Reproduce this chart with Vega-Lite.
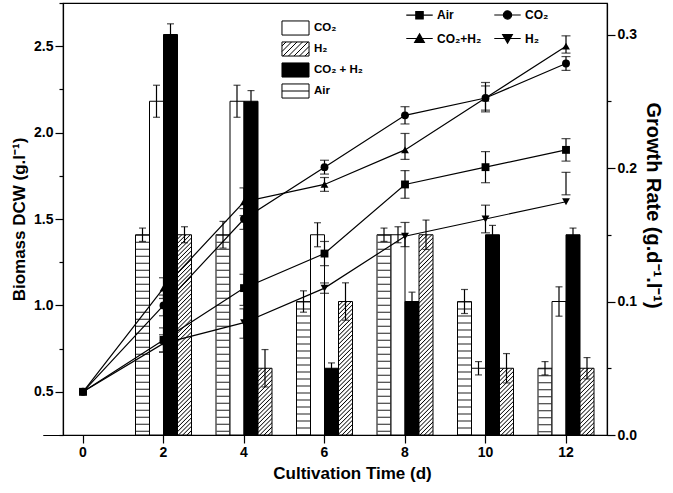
{
"$schema": "https://vega.github.io/schema/vega-lite/v6.json",
"width": 544, "height": 432,
"autosize": {"type": "none"},
"padding": {"left": 63, "top": 3, "right": 66, "bottom": 58},
"background": "white",
"datasets": {
"bars": [
{"day":2,"series":"Air","rate":0.15,"lo":0.145,"hi":0.155},
{"day":2,"series":"CO2","rate":0.25,"lo":0.238,"hi":0.262},
{"day":2,"series":"CO2H2","rate":0.30,"lo":0.292,"hi":0.308},
{"day":2,"series":"H2","rate":0.15,"lo":0.144,"hi":0.156},
{"day":4,"series":"Air","rate":0.15,"lo":0.14,"hi":0.16},
{"day":4,"series":"CO2","rate":0.25,"lo":0.238,"hi":0.262},
{"day":4,"series":"CO2H2","rate":0.25,"lo":0.242,"hi":0.258},
{"day":4,"series":"H2","rate":0.05,"lo":0.036,"hi":0.064},
{"day":6,"series":"Air","rate":0.10,"lo":0.092,"hi":0.108},
{"day":6,"series":"CO2","rate":0.15,"lo":0.141,"hi":0.159},
{"day":6,"series":"CO2H2","rate":0.05,"lo":0.046,"hi":0.054},
{"day":6,"series":"H2","rate":0.10,"lo":0.086,"hi":0.114},
{"day":8,"series":"Air","rate":0.15,"lo":0.145,"hi":0.155},
{"day":8,"series":"CO2","rate":0.15,"lo":0.144,"hi":0.156},
{"day":8,"series":"CO2H2","rate":0.10,"lo":0.093,"hi":0.107},
{"day":8,"series":"H2","rate":0.15,"lo":0.139,"hi":0.161},
{"day":10,"series":"Air","rate":0.10,"lo":0.091,"hi":0.109},
{"day":10,"series":"CO2","rate":0.05,"lo":0.045,"hi":0.055},
{"day":10,"series":"CO2H2","rate":0.15,"lo":0.143,"hi":0.157},
{"day":10,"series":"H2","rate":0.05,"lo":0.039,"hi":0.061},
{"day":12,"series":"Air","rate":0.05,"lo":0.045,"hi":0.055},
{"day":12,"series":"CO2","rate":0.10,"lo":0.089,"hi":0.111},
{"day":12,"series":"CO2H2","rate":0.15,"lo":0.145,"hi":0.155},
{"day":12,"series":"H2","rate":0.05,"lo":0.042,"hi":0.058}
],
"lines": [
{"day":0,"series":"Air","dcw":0.5},
{"day":0,"series":"CO2","dcw":0.5},
{"day":0,"series":"CO2H2","dcw":0.5},
{"day":0,"series":"H2","dcw":0.5},
{"day":2,"series":"Air","dcw":0.8,"lo":0.73,"hi":0.87},
{"day":2,"series":"CO2","dcw":1.0,"lo":0.94,"hi":1.06},
{"day":2,"series":"CO2H2","dcw":1.1,"lo":1.04,"hi":1.16},
{"day":2,"series":"H2","dcw":0.78,"lo":0.73,"hi":0.83},
{"day":4,"series":"Air","dcw":1.1,"lo":1.0,"hi":1.18},
{"day":4,"series":"CO2","dcw":1.5,"lo":1.44,"hi":1.56},
{"day":4,"series":"CO2H2","dcw":1.6,"lo":1.52,"hi":1.68},
{"day":4,"series":"H2","dcw":0.9,"lo":0.81,"hi":0.98},
{"day":6,"series":"Air","dcw":1.3,"lo":1.23,"hi":1.37},
{"day":6,"series":"CO2","dcw":1.8,"lo":1.76,"hi":1.84},
{"day":6,"series":"CO2H2","dcw":1.7,"lo":1.66,"hi":1.74},
{"day":6,"series":"H2","dcw":1.1,"lo":1.07,"hi":1.13},
{"day":8,"series":"Air","dcw":1.7,"lo":1.62,"hi":1.78},
{"day":8,"series":"CO2","dcw":2.1,"lo":2.05,"hi":2.15},
{"day":8,"series":"CO2H2","dcw":1.9,"lo":1.845,"hi":1.995},
{"day":8,"series":"H2","dcw":1.4,"lo":1.34,"hi":1.48},
{"day":10,"series":"Air","dcw":1.8,"lo":1.71,"hi":1.89},
{"day":10,"series":"CO2","dcw":2.2,"lo":2.13,"hi":2.29},
{"day":10,"series":"CO2H2","dcw":2.2,"lo":2.12,"hi":2.27},
{"day":10,"series":"H2","dcw":1.5,"lo":1.42,"hi":1.58},
{"day":12,"series":"Air","dcw":1.9,"lo":1.835,"hi":1.965},
{"day":12,"series":"CO2","dcw":2.4,"lo":2.36,"hi":2.44},
{"day":12,"series":"CO2H2","dcw":2.5,"lo":2.46,"hi":2.56},
{"day":12,"series":"H2","dcw":1.6,"lo":1.64,"hi":1.77}
]
},
"layer": [
{
"data": {"name": "bars"},
"layer": [
{
"mark": {"type": "bar", "stroke": "black", "strokeWidth": 1},
"encoding": {
"x": {"field": "day", "type": "ordinal", "title": "Cultivation Time (d)",
"scale": {"domain": [0,2,4,6,8,10,12], "range": [-20.25, 543.25], "paddingInner": 0, "paddingOuter": 0},
"axis": {"labelAngle": 0, "titlePadding": 6, "titleX": 289}},
"xOffset": {"field": "series", "type": "nominal", "scale": {"domain": ["Air","CO2","CO2H2","H2"], "range": [12.25, 68.25], "paddingInner": 0, "paddingOuter": 0}},
"y": {"field": "rate", "type": "quantitative", "stack": null, "title": "Growth Rate (g.d⁻¹.l⁻¹)",
"scale": {"domain": [0, 0.3236], "nice": false, "zero": false},
"axis": {"orient": "right", "values": [0,0.05,0.1,0.15,0.2,0.25,0.3],
"labelExpr": "abs(datum.value*10 - round(datum.value*10)) < 0.001 ? format(datum.value, '.1f') : ''",
"tickSize": {"condition": {"test": "abs(datum.value*10 - round(datum.value*10)) < 0.001", "value": 8}, "value": 4},
"titlePadding": 6, "titleFontSize": 20, "titleY": 202}},
"fill": {"condition": [
{"test": "datum.series == 'CO2H2'", "value": "black"},
{"test": "datum.series == 'H2' && datum.rate < 0.07", "value": {"gradient":"linear","x1":0,"y1":0,"x2":0.64408,"y2":3.07088,"stops":[
{"offset":0,"color":"#000"},{"offset":0.005,"color":"#fff"},{"offset":0.015,"color":"#fff"},
{"offset":0.02,"color":"#000"},{"offset":0.025,"color":"#fff"},{"offset":0.035,"color":"#fff"},
{"offset":0.04,"color":"#000"},{"offset":0.045,"color":"#fff"},{"offset":0.055,"color":"#fff"},
{"offset":0.06,"color":"#000"},{"offset":0.065,"color":"#fff"},{"offset":0.075,"color":"#fff"},
{"offset":0.08,"color":"#000"},{"offset":0.085,"color":"#fff"},{"offset":0.095,"color":"#fff"},
{"offset":0.1,"color":"#000"},{"offset":0.105,"color":"#fff"},{"offset":0.115,"color":"#fff"},
{"offset":0.12,"color":"#000"},{"offset":0.125,"color":"#fff"},{"offset":0.135,"color":"#fff"},
{"offset":0.14,"color":"#000"},{"offset":0.145,"color":"#fff"},{"offset":0.155,"color":"#fff"},
{"offset":0.16,"color":"#000"},{"offset":0.165,"color":"#fff"},{"offset":0.175,"color":"#fff"},
{"offset":0.18,"color":"#000"},{"offset":0.185,"color":"#fff"},{"offset":0.195,"color":"#fff"},
{"offset":0.2,"color":"#000"},{"offset":0.205,"color":"#fff"},{"offset":0.215,"color":"#fff"},
{"offset":0.22,"color":"#000"},{"offset":0.225,"color":"#fff"},{"offset":0.235,"color":"#fff"},
{"offset":0.24,"color":"#000"},{"offset":0.245,"color":"#fff"},{"offset":0.255,"color":"#fff"},
{"offset":0.26,"color":"#000"},{"offset":0.265,"color":"#fff"},{"offset":0.275,"color":"#fff"},
{"offset":0.28,"color":"#000"},{"offset":0.285,"color":"#fff"},{"offset":0.295,"color":"#fff"},
{"offset":0.3,"color":"#000"},{"offset":0.305,"color":"#fff"},{"offset":0.315,"color":"#fff"},
{"offset":0.32,"color":"#000"},{"offset":0.325,"color":"#fff"},{"offset":0.335,"color":"#fff"},
{"offset":0.34,"color":"#000"},{"offset":0.345,"color":"#fff"},{"offset":0.355,"color":"#fff"},
{"offset":0.36,"color":"#000"},{"offset":0.365,"color":"#fff"},{"offset":0.375,"color":"#fff"},
{"offset":0.38,"color":"#000"},{"offset":0.385,"color":"#fff"}]}},
{"test": "datum.series == 'H2' && datum.rate < 0.12", "value": {"gradient":"linear","x1":0,"y1":0,"x2":0.16628,"y2":1.58558,"stops":[
{"offset":0,"color":"#000"},{"offset":0.005,"color":"#fff"},{"offset":0.015,"color":"#fff"},
{"offset":0.02,"color":"#000"},{"offset":0.025,"color":"#fff"},{"offset":0.035,"color":"#fff"},
{"offset":0.04,"color":"#000"},{"offset":0.045,"color":"#fff"},{"offset":0.055,"color":"#fff"},
{"offset":0.06,"color":"#000"},{"offset":0.065,"color":"#fff"},{"offset":0.075,"color":"#fff"},
{"offset":0.08,"color":"#000"},{"offset":0.085,"color":"#fff"},{"offset":0.095,"color":"#fff"},
{"offset":0.1,"color":"#000"},{"offset":0.105,"color":"#fff"},{"offset":0.115,"color":"#fff"},
{"offset":0.12,"color":"#000"},{"offset":0.125,"color":"#fff"},{"offset":0.135,"color":"#fff"},
{"offset":0.14,"color":"#000"},{"offset":0.145,"color":"#fff"},{"offset":0.155,"color":"#fff"},
{"offset":0.16,"color":"#000"},{"offset":0.165,"color":"#fff"},{"offset":0.175,"color":"#fff"},
{"offset":0.18,"color":"#000"},{"offset":0.185,"color":"#fff"},{"offset":0.195,"color":"#fff"},
{"offset":0.2,"color":"#000"},{"offset":0.205,"color":"#fff"},{"offset":0.215,"color":"#fff"},
{"offset":0.22,"color":"#000"},{"offset":0.225,"color":"#fff"},{"offset":0.235,"color":"#fff"},
{"offset":0.24,"color":"#000"},{"offset":0.245,"color":"#fff"},{"offset":0.255,"color":"#fff"},
{"offset":0.26,"color":"#000"},{"offset":0.265,"color":"#fff"},{"offset":0.275,"color":"#fff"},
{"offset":0.28,"color":"#000"},{"offset":0.285,"color":"#fff"},{"offset":0.295,"color":"#fff"},
{"offset":0.3,"color":"#000"},{"offset":0.305,"color":"#fff"},{"offset":0.315,"color":"#fff"},
{"offset":0.32,"color":"#000"},{"offset":0.325,"color":"#fff"},{"offset":0.335,"color":"#fff"},
{"offset":0.34,"color":"#000"},{"offset":0.345,"color":"#fff"},{"offset":0.355,"color":"#fff"},
{"offset":0.36,"color":"#000"},{"offset":0.365,"color":"#fff"},{"offset":0.375,"color":"#fff"},
{"offset":0.38,"color":"#000"},{"offset":0.385,"color":"#fff"},{"offset":0.395,"color":"#fff"},
{"offset":0.4,"color":"#000"},{"offset":0.405,"color":"#fff"},{"offset":0.415,"color":"#fff"},
{"offset":0.42,"color":"#000"},{"offset":0.425,"color":"#fff"},{"offset":0.435,"color":"#fff"},
{"offset":0.44,"color":"#000"},{"offset":0.445,"color":"#fff"},{"offset":0.455,"color":"#fff"},
{"offset":0.46,"color":"#000"},{"offset":0.465,"color":"#fff"},{"offset":0.475,"color":"#fff"},
{"offset":0.48,"color":"#000"},{"offset":0.485,"color":"#fff"},{"offset":0.495,"color":"#fff"},
{"offset":0.5,"color":"#000"},{"offset":0.505,"color":"#fff"},{"offset":0.515,"color":"#fff"},
{"offset":0.52,"color":"#000"},{"offset":0.525,"color":"#fff"},{"offset":0.535,"color":"#fff"},
{"offset":0.54,"color":"#000"},{"offset":0.545,"color":"#fff"},{"offset":0.555,"color":"#fff"},
{"offset":0.56,"color":"#000"},{"offset":0.565,"color":"#fff"},{"offset":0.575,"color":"#fff"},
{"offset":0.58,"color":"#000"},{"offset":0.585,"color":"#fff"},{"offset":0.595,"color":"#fff"},
{"offset":0.6,"color":"#000"},{"offset":0.605,"color":"#fff"},{"offset":0.615,"color":"#fff"},
{"offset":0.62,"color":"#000"},{"offset":0.625,"color":"#fff"},{"offset":0.635,"color":"#fff"},
{"offset":0.64,"color":"#000"},{"offset":0.645,"color":"#fff"},{"offset":0.655,"color":"#fff"},
{"offset":0.66,"color":"#000"},{"offset":0.665,"color":"#fff"},{"offset":0.675,"color":"#fff"},
{"offset":0.68,"color":"#000"},{"offset":0.685,"color":"#fff"},{"offset":0.695,"color":"#fff"}]}},
{"test": "datum.series == 'H2'", "value": {"gradient":"linear","x1":0,"y1":0,"x2":0.07439,"y2":1.06373,"stops":[
{"offset":0,"color":"#000"},{"offset":0.005,"color":"#fff"},{"offset":0.015,"color":"#fff"},
{"offset":0.02,"color":"#000"},{"offset":0.025,"color":"#fff"},{"offset":0.035,"color":"#fff"},
{"offset":0.04,"color":"#000"},{"offset":0.045,"color":"#fff"},{"offset":0.055,"color":"#fff"},
{"offset":0.06,"color":"#000"},{"offset":0.065,"color":"#fff"},{"offset":0.075,"color":"#fff"},
{"offset":0.08,"color":"#000"},{"offset":0.085,"color":"#fff"},{"offset":0.095,"color":"#fff"},
{"offset":0.1,"color":"#000"},{"offset":0.105,"color":"#fff"},{"offset":0.115,"color":"#fff"},
{"offset":0.12,"color":"#000"},{"offset":0.125,"color":"#fff"},{"offset":0.135,"color":"#fff"},
{"offset":0.14,"color":"#000"},{"offset":0.145,"color":"#fff"},{"offset":0.155,"color":"#fff"},
{"offset":0.16,"color":"#000"},{"offset":0.165,"color":"#fff"},{"offset":0.175,"color":"#fff"},
{"offset":0.18,"color":"#000"},{"offset":0.185,"color":"#fff"},{"offset":0.195,"color":"#fff"},
{"offset":0.2,"color":"#000"},{"offset":0.205,"color":"#fff"},{"offset":0.215,"color":"#fff"},
{"offset":0.22,"color":"#000"},{"offset":0.225,"color":"#fff"},{"offset":0.235,"color":"#fff"},
{"offset":0.24,"color":"#000"},{"offset":0.245,"color":"#fff"},{"offset":0.255,"color":"#fff"},
{"offset":0.26,"color":"#000"},{"offset":0.265,"color":"#fff"},{"offset":0.275,"color":"#fff"},
{"offset":0.28,"color":"#000"},{"offset":0.285,"color":"#fff"},{"offset":0.295,"color":"#fff"},
{"offset":0.3,"color":"#000"},{"offset":0.305,"color":"#fff"},{"offset":0.315,"color":"#fff"},
{"offset":0.32,"color":"#000"},{"offset":0.325,"color":"#fff"},{"offset":0.335,"color":"#fff"},
{"offset":0.34,"color":"#000"},{"offset":0.345,"color":"#fff"},{"offset":0.355,"color":"#fff"},
{"offset":0.36,"color":"#000"},{"offset":0.365,"color":"#fff"},{"offset":0.375,"color":"#fff"},
{"offset":0.38,"color":"#000"},{"offset":0.385,"color":"#fff"},{"offset":0.395,"color":"#fff"},
{"offset":0.4,"color":"#000"},{"offset":0.405,"color":"#fff"},{"offset":0.415,"color":"#fff"},
{"offset":0.42,"color":"#000"},{"offset":0.425,"color":"#fff"},{"offset":0.435,"color":"#fff"},
{"offset":0.44,"color":"#000"},{"offset":0.445,"color":"#fff"},{"offset":0.455,"color":"#fff"},
{"offset":0.46,"color":"#000"},{"offset":0.465,"color":"#fff"},{"offset":0.475,"color":"#fff"},
{"offset":0.48,"color":"#000"},{"offset":0.485,"color":"#fff"},{"offset":0.495,"color":"#fff"},
{"offset":0.5,"color":"#000"},{"offset":0.505,"color":"#fff"},{"offset":0.515,"color":"#fff"},
{"offset":0.52,"color":"#000"},{"offset":0.525,"color":"#fff"},{"offset":0.535,"color":"#fff"},
{"offset":0.54,"color":"#000"},{"offset":0.545,"color":"#fff"},{"offset":0.555,"color":"#fff"},
{"offset":0.56,"color":"#000"},{"offset":0.565,"color":"#fff"},{"offset":0.575,"color":"#fff"},
{"offset":0.58,"color":"#000"},{"offset":0.585,"color":"#fff"},{"offset":0.595,"color":"#fff"},
{"offset":0.6,"color":"#000"},{"offset":0.605,"color":"#fff"},{"offset":0.615,"color":"#fff"},
{"offset":0.62,"color":"#000"},{"offset":0.625,"color":"#fff"},{"offset":0.635,"color":"#fff"},
{"offset":0.64,"color":"#000"},{"offset":0.645,"color":"#fff"},{"offset":0.655,"color":"#fff"},
{"offset":0.66,"color":"#000"},{"offset":0.665,"color":"#fff"},{"offset":0.675,"color":"#fff"},
{"offset":0.68,"color":"#000"},{"offset":0.685,"color":"#fff"},{"offset":0.695,"color":"#fff"},
{"offset":0.7,"color":"#000"},{"offset":0.705,"color":"#fff"},{"offset":0.715,"color":"#fff"},
{"offset":0.72,"color":"#000"},{"offset":0.725,"color":"#fff"},{"offset":0.735,"color":"#fff"},
{"offset":0.74,"color":"#000"},{"offset":0.745,"color":"#fff"},{"offset":0.755,"color":"#fff"},
{"offset":0.76,"color":"#000"},{"offset":0.765,"color":"#fff"},{"offset":0.775,"color":"#fff"},
{"offset":0.78,"color":"#000"},{"offset":0.785,"color":"#fff"},{"offset":0.795,"color":"#fff"},
{"offset":0.8,"color":"#000"},{"offset":0.805,"color":"#fff"},{"offset":0.815,"color":"#fff"},
{"offset":0.82,"color":"#000"},{"offset":0.825,"color":"#fff"},{"offset":0.835,"color":"#fff"},
{"offset":0.84,"color":"#000"},{"offset":0.845,"color":"#fff"},{"offset":0.855,"color":"#fff"},
{"offset":0.86,"color":"#000"},{"offset":0.865,"color":"#fff"},{"offset":0.875,"color":"#fff"},
{"offset":0.88,"color":"#000"},{"offset":0.885,"color":"#fff"},{"offset":0.895,"color":"#fff"},
{"offset":0.9,"color":"#000"},{"offset":0.905,"color":"#fff"},{"offset":0.915,"color":"#fff"},
{"offset":0.92,"color":"#000"},{"offset":0.925,"color":"#fff"},{"offset":0.935,"color":"#fff"},
{"offset":0.94,"color":"#000"},{"offset":0.945,"color":"#fff"},{"offset":0.955,"color":"#fff"},
{"offset":0.96,"color":"#000"},{"offset":0.965,"color":"#fff"},{"offset":0.975,"color":"#fff"},
{"offset":0.98,"color":"#000"},{"offset":0.985,"color":"#fff"},{"offset":0.995,"color":"#fff"},
{"offset":1,"color":"#000"}]}}
], "value": "white"}
}
},
{
"transform": [{"filter": "datum.series == 'Air'"}],
"mark": {"type": "rule", "strokeWidth": 13, "strokeDash": [1, 6], "strokeCap": "butt", "color": "#222"},
"encoding": {
"x": {"field": "day", "type": "ordinal", "title": "Cultivation Time (d)"},
"xOffset": {"field": "series", "type": "nominal"},
"y": {"field": "rate", "type": "quantitative", "stack": null, "title": "Growth Rate (g.d⁻¹.l⁻¹)"},
"y2": {"datum": 0}
}
},
{
"mark": {"type": "rule", "color": "black", "strokeWidth": 1.2},
"encoding": {
"x": {"field": "day", "type": "ordinal", "title": "Cultivation Time (d)"},
"xOffset": {"field": "series", "type": "nominal"},
"y": {"field": "lo", "type": "quantitative", "title": "Growth Rate (g.d⁻¹.l⁻¹)"},
"y2": {"field": "hi"}
}
},
{
"mark": {"type": "tick", "orient": "horizontal", "size": 7, "thickness": 1.2, "color": "black"},
"encoding": {
"x": {"field": "day", "type": "ordinal", "title": "Cultivation Time (d)"},
"xOffset": {"field": "series", "type": "nominal"},
"y": {"field": "hi", "type": "quantitative", "title": "Growth Rate (g.d⁻¹.l⁻¹)"}
}
},
{
"mark": {"type": "tick", "orient": "horizontal", "size": 7, "thickness": 1.2, "color": "black"},
"encoding": {
"x": {"field": "day", "type": "ordinal", "title": "Cultivation Time (d)"},
"xOffset": {"field": "series", "type": "nominal"},
"y": {"field": "lo", "type": "quantitative", "title": "Growth Rate (g.d⁻¹.l⁻¹)"}
}
},
{
"transform": [{"filter": "false"}],
"mark": {"type": "point", "filled": true, "stroke": "black", "strokeWidth": 1, "opacity": 1},
"encoding": {
"fill": {"field": "series", "type": "nominal", "title": null,
"scale": {"domain": ["CO2","H2","CO2H2","Air"], "range": ["white","white","black","white"]},
"legend": {"orient": "none", "legendX": 221, "legendY": 13.5, "symbolSize": 484, "rowPadding": 0, "labelOffset": 7,
"labelFontSize": 11.5, "labelFont": "Liberation Sans", "labelFontWeight": "bold", "labelColor": "black",
"symbolStrokeColor": "black", "symbolStrokeWidth": 1, "symbolOpacity": 1,
"encode": {"symbols": {"update": {"stroke": {"value": "black"}, "strokeWidth": {"value": 1}}}},
"labelExpr": "datum.label == 'CO2' ? 'CO₂' : datum.label == 'H2' ? 'H₂' : datum.label == 'CO2H2' ? 'CO₂ + H₂' : 'Air'"}},
"shape": {"field": "series", "type": "nominal", "title": null,
"scale": {"domain": ["CO2","H2","CO2H2","Air"], "range": [
"M-1.23,-0.64H1.23V0.64H-1.23Z",
"M-1.23,-0.64H1.23V0.64H-1.23ZM-1.23,-0.27L-0.86,-0.64M-1.23,0.23L-0.36,-0.64M-1.14,0.64L0.14,-0.64M-0.64,0.64L0.64,-0.64M-0.14,0.64L1.14,-0.64M0.36,0.64L1.23,-0.23M0.86,0.64L1.23,0.27",
"M-1.23,-0.64H1.23V0.64H-1.23Z",
"M-1.23,-0.64H1.23V0.64H-1.23ZM-1.23,0H1.23"]},
"legend": {"orient": "none", "legendX": 221, "legendY": 13.5, "symbolSize": 484, "rowPadding": 0, "labelOffset": 7,
"labelFontSize": 11.5, "labelFont": "Liberation Sans", "labelFontWeight": "bold", "labelColor": "black",
"symbolStrokeColor": "black", "symbolStrokeWidth": 1, "symbolOpacity": 1,
"encode": {"symbols": {"update": {"stroke": {"value": "black"}, "strokeWidth": {"value": 1}}}},
"labelExpr": "datum.label == 'CO2' ? 'CO₂' : datum.label == 'H2' ? 'H₂' : datum.label == 'CO2H2' ? 'CO₂ + H₂' : 'Air'"}}
}
}
]
},
{
"data": {"name": "lines"},
"layer": [
{
"mark": {"type": "line", "color": "black", "strokeWidth": 1.2},
"encoding": {
"x": {"field": "day", "type": "ordinal", "title": "Cultivation Time (d)"},
"y": {"field": "dcw", "type": "quantitative", "title": "Biomass DCW (g.l⁻¹)",
"scale": {"domain": [0.25, 2.75], "nice": false, "zero": false},
"axis": {"orient": "left", "values": [0.25,0.5,0.75,1,1.25,1.5,1.75,2,2.25,2.5,2.75],
"labelExpr": "abs(datum.value*2 - round(datum.value*2)) < 0.001 ? format(datum.value, '.1f') : ''",
"tickSize": {"condition": {"test": "abs(datum.value*2 - round(datum.value*2)) < 0.001", "value": 8}, "value": 4},
"titlePadding": 5}},
"detail": {"field": "series"}
}
},
{
"transform": [{"filter": "datum.lo != null"}],
"mark": {"type": "rule", "color": "black", "strokeWidth": 1.2},
"encoding": {
"x": {"field": "day", "type": "ordinal", "title": "Cultivation Time (d)"},
"y": {"field": "lo", "type": "quantitative", "title": "Biomass DCW (g.l⁻¹)"},
"y2": {"field": "hi"}
}
},
{
"transform": [{"filter": "datum.lo != null"}],
"mark": {"type": "tick", "orient": "horizontal", "size": 9, "thickness": 1.2, "color": "black"},
"encoding": {
"x": {"field": "day", "type": "ordinal", "title": "Cultivation Time (d)"},
"y": {"field": "hi", "type": "quantitative", "title": "Biomass DCW (g.l⁻¹)"}
}
},
{
"transform": [{"filter": "datum.lo != null"}],
"mark": {"type": "tick", "orient": "horizontal", "size": 9, "thickness": 1.2, "color": "black"},
"encoding": {
"x": {"field": "day", "type": "ordinal", "title": "Cultivation Time (d)"},
"y": {"field": "lo", "type": "quantitative", "title": "Biomass DCW (g.l⁻¹)"}
}
},
{
"mark": {"type": "point", "filled": true, "size": 62, "color": "black", "opacity": 1},
"encoding": {
"x": {"field": "day", "type": "ordinal", "title": "Cultivation Time (d)"},
"y": {"field": "dcw", "type": "quantitative", "title": "Biomass DCW (g.l⁻¹)"},
"shape": {"field": "series", "type": "nominal", "legend": null,
"scale": {"domain": ["Air","CO2","CO2H2","H2"], "range": ["square","circle","triangle-up","triangle-down"]}}
}
},
{
"transform": [{"filter": "false"}],
"mark": {"type": "point", "filled": true, "strokeWidth": 1.2, "opacity": 1},
"encoding": {
"fill": {"field": "series", "type": "nominal", "title": null,
"scale": {"domain": ["Air","CO2H2","CO2","H2"], "range": ["black","black","black","black"]},
"legend": {"orient": "none", "legendX": 344, "legendY": -1, "columns": 2, "columnPadding": 9, "rowPadding": 4,
"symbolSize": 529, "labelOffset": 5, "labelFontSize": 12, "labelFont": "Liberation Sans", "labelFontWeight": "bold", "labelColor": "black",
"symbolStrokeColor": "black", "symbolStrokeWidth": 1.2, "symbolOpacity": 1,
"encode": {"symbols": {"update": {"stroke": {"value": "black"}, "strokeWidth": {"value": 1.2}}}},
"labelExpr": "datum.label == 'CO2' ? 'CO₂' : datum.label == 'H2' ? 'H₂' : datum.label == 'CO2H2' ? 'CO₂+H₂' : 'Air'"}},
"stroke": {"field": "series", "type": "nominal", "title": null,
"scale": {"domain": ["Air","CO2H2","CO2","H2"], "range": ["black","black","black","black"]},
"legend": {"orient": "none", "legendX": 344, "legendY": -1, "columns": 2, "columnPadding": 9, "rowPadding": 4,
"symbolSize": 529, "labelOffset": 5, "labelFontSize": 12, "labelFont": "Liberation Sans", "labelFontWeight": "bold", "labelColor": "black",
"symbolStrokeColor": "black", "symbolStrokeWidth": 1.2, "symbolOpacity": 1,
"encode": {"symbols": {"update": {"stroke": {"value": "black"}, "strokeWidth": {"value": 1.2}}}},
"labelExpr": "datum.label == 'CO2' ? 'CO₂' : datum.label == 'H2' ? 'H₂' : datum.label == 'CO2H2' ? 'CO₂+H₂' : 'Air'"}},
"shape": {"field": "series", "type": "nominal", "title": null,
"scale": {"domain": ["Air","CO2H2","CO2","H2"], "range": [
"M-1.15,0H1.15M-0.32,-0.32H0.32V0.32H-0.32Z",
"M-1.15,0H1.15M0,-0.4L0.42,0.34H-0.42Z",
"M-1.15,0H1.15M0.36,0A0.36,0.36,0,1,1,-0.36,0A0.36,0.36,0,1,1,0.36,0Z",
"M-1.15,0H1.15M0,0.4L0.42,-0.34H-0.42Z"]},
"legend": {"orient": "none", "legendX": 344, "legendY": -1, "columns": 2, "columnPadding": 9, "rowPadding": 4,
"symbolSize": 529, "labelOffset": 5, "labelFontSize": 12, "labelFont": "Liberation Sans", "labelFontWeight": "bold", "labelColor": "black",
"symbolStrokeColor": "black", "symbolStrokeWidth": 1.2, "symbolOpacity": 1,
"encode": {"symbols": {"update": {"stroke": {"value": "black"}, "strokeWidth": {"value": 1.2}}}},
"labelExpr": "datum.label == 'CO2' ? 'CO₂' : datum.label == 'H2' ? 'H₂' : datum.label == 'CO2H2' ? 'CO₂+H₂' : 'Air'"}}
}
}
],
"resolve": {"scale": {"shape": "independent", "fill": "independent", "stroke": "independent"}}
}
],
"resolve": {"scale": {"y": "independent", "shape": "independent", "fill": "independent", "stroke": "independent"}},
"config": {
"font": "Liberation Sans",
"view": {"stroke": "black", "strokeWidth": 1.2},
"axis": {"labelFont": "Liberation Sans", "labelFontSize": 14, "labelFontWeight": "bold", "labelColor": "black",
"titleFont": "Liberation Sans", "titleFontSize": 17, "titleFontWeight": "bold", "titleColor": "black",
"domainColor": "black", "domainWidth": 1.2, "tickColor": "black", "tickWidth": 1.2, "tickSize": 8, "labelPadding": 2, "grid": false}
}
}
